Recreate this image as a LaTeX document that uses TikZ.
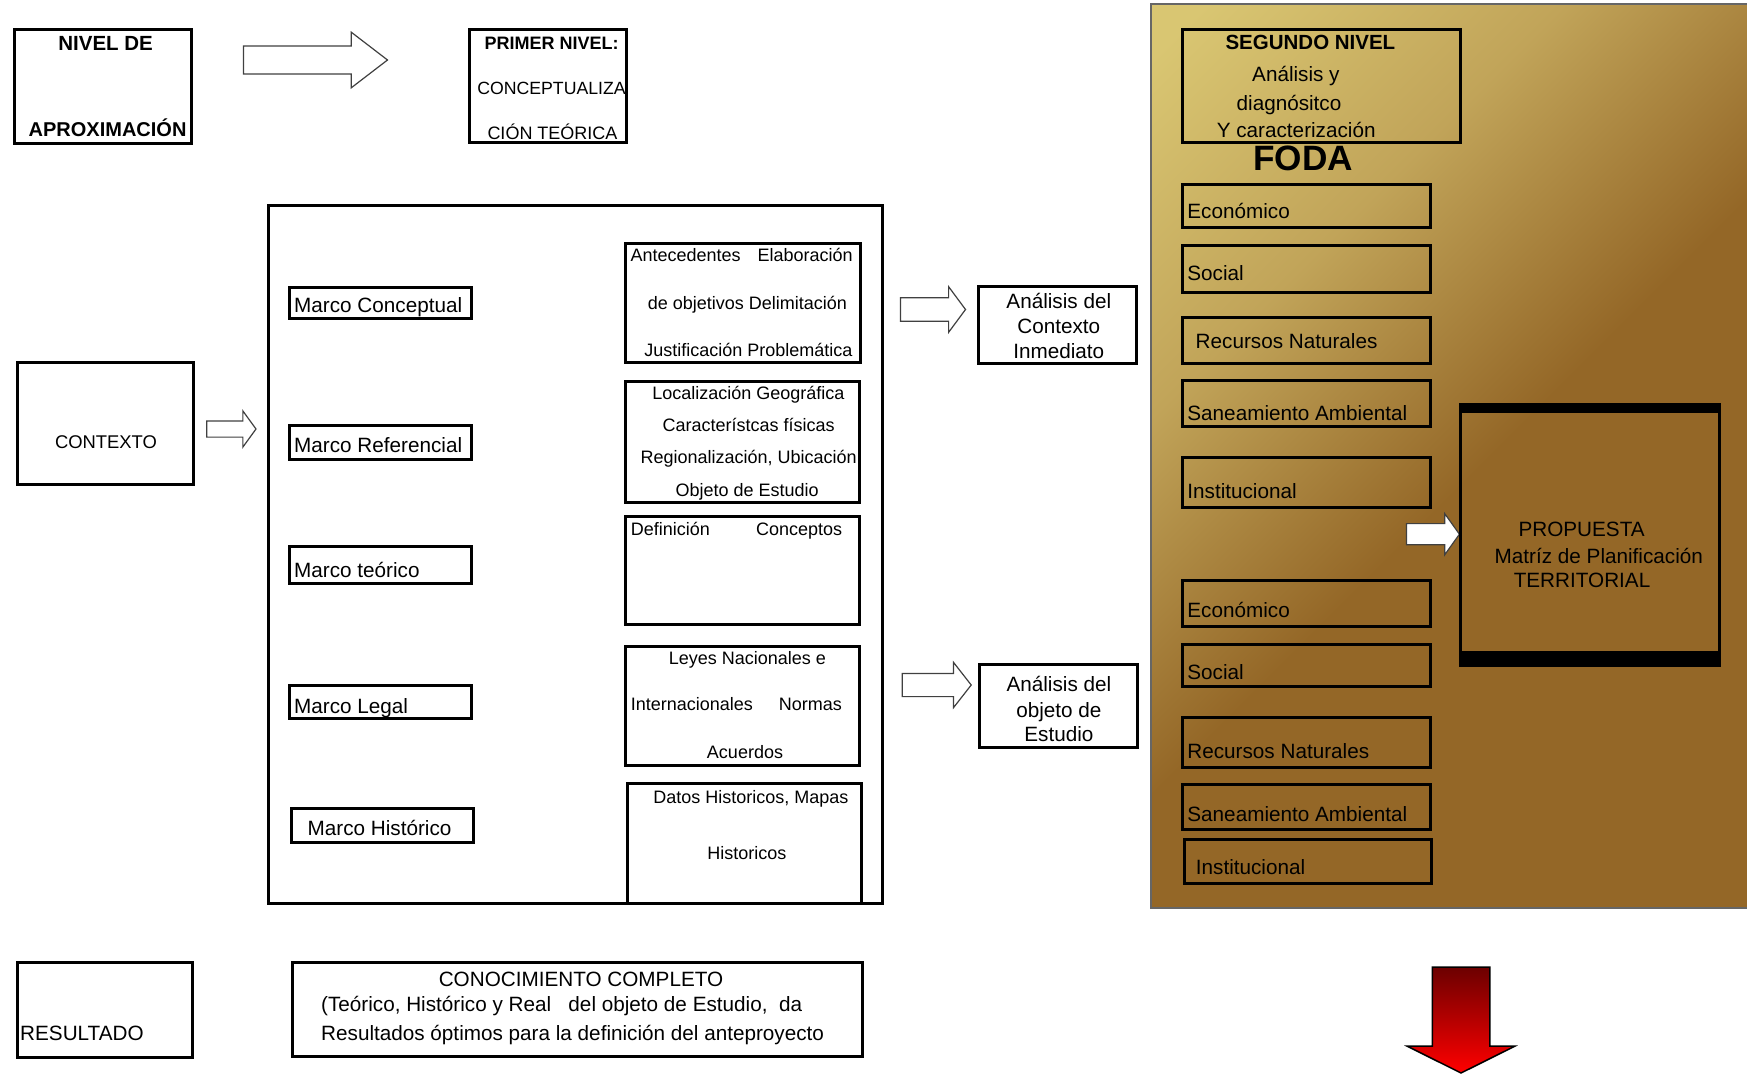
\documentclass[tikz,border=0pt]{standalone}
\usepackage{fontspec}
\setmainfont{Liberation Sans}
\usetikzlibrary{shapes.arrows}

\definecolor{fodaclaro}{HTML}{D9C672}
\definecolor{fodamedio}{HTML}{C1A459}
\definecolor{fodaoscuro}{HTML}{946727}
\definecolor{rojooscuro}{HTML}{6C0000}
\pgfdeclarehorizontalshading{fondofoda}{100bp}{color(0bp)=(fodaclaro); color(17bp)=(fodaclaro); color(34bp)=(fodamedio); color(52bp)=(fodaoscuro); color(100bp)=(fodaoscuro)}

\begin{document}
\begin{tikzpicture}[x=1pt, y=-1pt,
		caja/.style={draw, line width=3pt, inner sep=0pt, outer sep=0pt, anchor=north west},
		txt/.style={inner sep=0pt, font=\fontsize{20.7}{25}\selectfont},
		txtchico/.style={inner sep=0pt, font=\fontsize{18}{22}\selectfont},
		txtnegro/.style={inner sep=0pt, font=\fontsize{20.5}{25}\selectfont\bfseries},
		flechablanca/.style={single arrow, draw=black!75, line width=1.2pt, fill=white, anchor=tail, outer sep=0pt}]
		\useasboundingbox (0,0) rectangle (1747,1073);
		\fill[white] (0,0) rectangle (1747,1073);
		
		% fondo del segundo nivel
		\node[draw=black!60, line width=1.5pt, inner sep=0pt, outer sep=0pt, anchor=north west,
			minimum width=597pt, minimum height=904pt, shade, shading=fondofoda, shading angle=-45] (fondo) at (1151,4) {};
		
		% primera fila
		\node[caja, minimum width=176.5pt, minimum height=113.5pt] (nivel) at (14.5,29.5) {};
		\node[txtnegro, anchor=base] (tnivel1) at (105.6,50.7) {NIVEL DE};
		\node[txtnegro, anchor=base, font=\fontsize{20}{24}\selectfont\bfseries] (tnivel2) at (107.6,136.7) {APROXIMACIÓN};
		\node[flechablanca, minimum height=144pt, inner sep=13.3pt, single arrow head extend=13.9pt, single arrow tip angle=75] (flecha1) at (243.5,60) {};
		\node[caja, minimum width=157pt, minimum height=112.5pt] (primer) at (469.5,29.5) {};
		\node[txtnegro, anchor=base, font=\fontsize{18}{22}\selectfont\bfseries] (tprimer1) at (551.7,50) {PRIMER NIVEL:};
		\node[txtchico, anchor=base, font=\fontsize{17.7}{22}\selectfont] (tprimer2) at (551.5,94) {CONCEPTUALIZA};
		\node[txtchico, anchor=base] (tprimer3) at (552.5,139) {CIÓN TEÓRICA};
		
		% contexto
		\node[caja, minimum width=176pt, minimum height=122pt] (contexto) at (17,362) {};
		\node[txtchico, anchor=base, font=\fontsize{18.4}{22}\selectfont] (tcontexto) at (106,448.3) {CONTEXTO};
		\node[flechablanca, minimum height=49.3pt, inner sep=7.5pt, single arrow head extend=10pt, single arrow tip angle=108] (flecha2) at (206.7,429) {};
		
		% marcos
		\node[caja, minimum width=614pt, minimum height=698pt] (marcos) at (268.5,205) {};
		\node[caja, minimum width=181.5pt, minimum height=31pt] (mconceptual) at (289.5,287) {};
		\node[txt, anchor=base west] (tmconceptual) at (294,312.5) {Marco Conceptual};
		\node[caja, minimum width=181.5pt, minimum height=33.5pt] (mreferencial) at (289.5,425.5) {};
		\node[txt, anchor=base west] (tmreferencial) at (294,452.4) {Marco Referencial};
		\node[caja, minimum width=181.5pt, minimum height=37pt] (mteorico) at (289.5,546) {};
		\node[txt, anchor=base west] (tmteorico) at (294,577.3) {Marco teórico};
		\node[caja, minimum width=181.5pt, minimum height=33.5pt] (mlegal) at (289.5,685) {};
		\node[txt, anchor=base west] (tmlegal) at (294,713) {Marco Legal};
		\node[caja, minimum width=182.5pt, minimum height=34pt] (mhistorico) at (291,808.5) {};
		\node[txt, anchor=base west] (tmhistorico) at (307.5,835.3) {Marco Histórico};
		
		\node[caja, minimum width=235pt, minimum height=119.5pt] (antecedentes) at (625,243) {};
		\node[txtchico, anchor=base] (tant1) at (741.6,261.5) {Antecedentes\hspace{0.94em}Elaboración};
		\node[txtchico, anchor=base] (tant2) at (747.5,309) {de objetivos Delimitación};
		\node[txtchico, anchor=base] (tant3) at (748.3,356) {Justificación Problemática};
		\node[caja, minimum width=234.5pt, minimum height=121.5pt] (localizacion) at (625,381) {};
		\node[txtchico, anchor=base] (tloc1) at (748.4,399) {Localización Geográfica};
		\node[txtchico, anchor=base] (tloc2) at (748.7,431) {Característcas físicas};
		\node[txtchico, anchor=base] (tloc3) at (748.7,463.3) {Regionalización, Ubicación};
		\node[txtchico, anchor=base] (tloc4) at (747.2,496) {Objeto de Estudio};
		\node[caja, minimum width=234.5pt, minimum height=108.5pt] (definicion) at (625,516) {};
		\node[txtchico, anchor=base west] (tdef1) at (630.6,535) {Definición};
		\node[txtchico, anchor=base west] (tdef2) at (755.8,535) {Conceptos};
		\node[caja, minimum width=234.5pt, minimum height=119pt] (leyes) at (625,646) {};
		\node[txtchico, anchor=base] (tley1) at (747.3,664.3) {Leyes Nacionales e};
		\node[txtchico, anchor=base west] (tley2) at (630.6,710.7) {Internacionales};
		\node[txtchico, anchor=base east] (tley3) at (842,710.7) {Normas};
		\node[txtchico, anchor=base] (tley4) at (745,758.3) {Acuerdos};
		\node[caja, minimum width=234.5pt, minimum height=119.5pt] (datos) at (627,783.5) {};
		\node[txtchico, anchor=base] (tdat1) at (750.8,803) {Datos Historicos, Mapas};
		\node[txtchico, anchor=base] (tdat2) at (746.8,859.5) {Historicos};
		
		% analisis
		\node[flechablanca, minimum height=65.1pt, inner sep=11.2pt, single arrow head extend=11pt, single arrow tip angle=107] (flecha3) at (900.4,309.5) {};
		\node[caja, minimum width=158pt, minimum height=77pt] (acontexto) at (978,286) {};
		\node[txt, anchor=base] (tacon1) at (1058.8,308.3) {Análisis del};
		\node[txt, anchor=base] (tacon2) at (1058.8,333.3) {Contexto};
		\node[txt, anchor=base] (tacon3) at (1058.8,358.8) {Inmediato};
		\node[flechablanca, minimum height=68.9pt, inner sep=11pt, single arrow head extend=11pt, single arrow tip angle=104] (flecha4) at (902.3,685) {};
		\node[caja, minimum width=158pt, minimum height=82.5pt] (aobjeto) at (979,664.5) {};
		\node[txt, anchor=base] (taobj1) at (1058.9,691.7) {Análisis del};
		\node[txt, anchor=base] (taobj2) at (1058.9,717.3) {objeto de};
		\node[txt, anchor=base] (taobj3) at (1058.9,741.7) {Estudio};
		
		% resultado
		\node[caja, minimum width=175pt, minimum height=95pt] (resultado) at (17,962) {};
		\node[txt, anchor=base west] (tresultado) at (20,1040) {RESULTADO};
		\node[caja, minimum width=570pt, minimum height=94.5pt] (conocimiento) at (292.5,962) {};
		\node[txt, anchor=base] (tcon1) at (581,986) {CONOCIMIENTO COMPLETO};
		\node[txt, anchor=base west] (tcon2) at (321,1011) {(Teórico, Histórico y Real~~~del objeto de Estudio,~~da};
		\node[txt, anchor=base west] (tcon3) at (321,1040) {Resultados óptimos para la definición del anteproyecto};
		
		% segundo nivel
		\node[caja, minimum width=278pt, minimum height=112.5pt] (segundo) at (1182,30) {};
		\node[txtnegro, anchor=base] (tseg1) at (1310.4,49.3) {SEGUNDO NIVEL};
		\node[txt, anchor=base] (tseg2) at (1295.9,81.7) {Análisis y};
		\node[txt, anchor=base] (tseg3) at (1289,110) {diagnósitco};
		\node[txt, anchor=base] (tseg4) at (1296.2,137.7) {Y caracterización};
		\node[txtnegro, anchor=base, font=\fontsize{35.2}{40}\selectfont\bfseries] (tfoda) at (1303.2,170) {FODA};
		
		\node[caja, minimum width=248pt, minimum height=43.5pt] (eco1) at (1182,184) {};
		\node[txt, anchor=base west] (teco1) at (1187.2,218.3) {Económico};
		\node[caja, minimum width=248pt, minimum height=47pt] (soc1) at (1182,245) {};
		\node[txt, anchor=base west] (tsoc1) at (1187.2,280.5) {Social};
		\node[caja, minimum width=248pt, minimum height=45.5pt] (rec1) at (1182,317.5) {};
		\node[txt, anchor=base west] (trec1) at (1195.5,348.5) {Recursos Naturales};
		\node[caja, minimum width=248pt, minimum height=46pt] (san1) at (1182,380) {};
		\node[txt, anchor=base west] (tsan1) at (1187.2,420) {Saneamiento Ambiental};
		\node[caja, minimum width=248pt, minimum height=49.5pt] (ins1) at (1182,457.5) {};
		\node[txt, anchor=base west] (tins1) at (1187.2,498.3) {Institucional};
		\node[caja, minimum width=248pt, minimum height=46pt] (eco2) at (1182,580) {};
		\node[txt, anchor=base west] (teco2) at (1187.2,617.3) {Económico};
		\node[caja, minimum width=248pt, minimum height=42pt] (soc2) at (1182,644) {};
		\node[txt, anchor=base west] (tsoc2) at (1187.2,679.5) {Social};
		\node[caja, minimum width=248pt, minimum height=49.5pt] (rec2) at (1182,717.5) {};
		\node[txt, anchor=base west] (trec2) at (1187.2,758.5) {Recursos Naturales};
		\node[caja, minimum width=248pt, minimum height=45.5pt] (san2) at (1182,784) {};
		\node[txt, anchor=base west] (tsan2) at (1187.2,821.7) {Saneamiento Ambiental};
		\node[caja, minimum width=247.5pt, minimum height=44pt] (ins2) at (1184,839.5) {};
		\node[txt, anchor=base west] (tins2) at (1195.7,874.3) {Institucional};
		
		% propuesta
		\node[flechablanca, minimum height=53pt, inner sep=10pt, single arrow head extend=9.85pt, single arrow tip angle=109] (flecha5) at (1406.4,534.2) {};
		\node[caja, line width=2.5pt, minimum width=259pt, minimum height=262pt] (propuesta) at (1460.5,404) {};
		\fill (propuesta.north west) rectangle ([yshift=-9pt]propuesta.north east);
		\fill ([yshift=15pt]propuesta.south west) rectangle (propuesta.south east);
		\node[txt, anchor=base] (tprop1) at (1581.6,536.7) {PROPUESTA};
		\node[txt, anchor=base] (tprop2) at (1598.8,563.3) {Matríz de Planificación};
		\node[txt, anchor=base] (tprop3) at (1582,587.7) {TERRITORIAL};
		
		\node[single arrow, shape border rotate=270, draw=black, line width=1.5pt, top color=rojooscuro, bottom color=red,
			anchor=tail, outer sep=0pt, minimum height=106pt, inner sep=28pt, single arrow head extend=25pt, single arrow tip angle=127] (flechaabajo) at (1461,967) {};
		
	\end{tikzpicture}
\end{document}
